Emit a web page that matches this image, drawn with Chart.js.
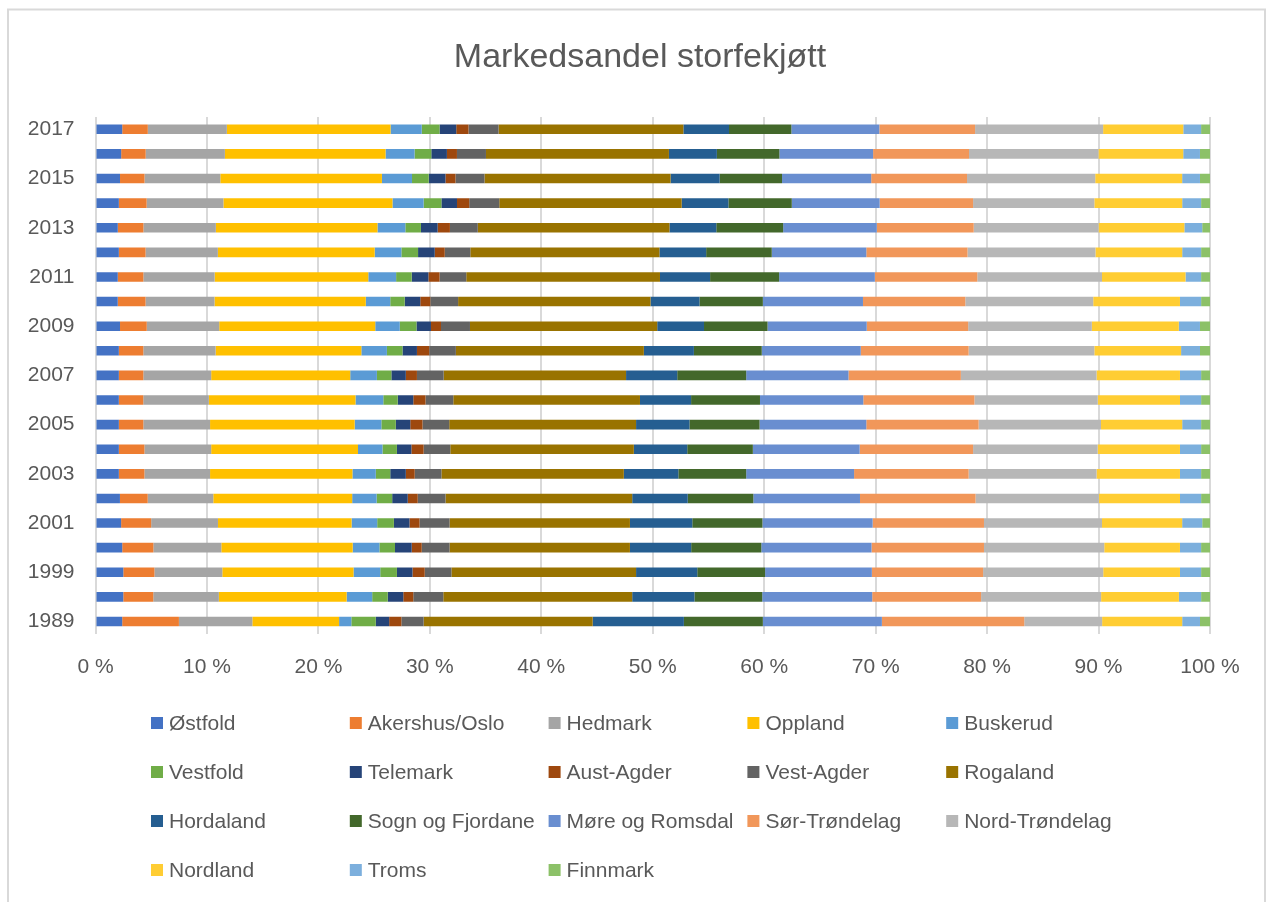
<!DOCTYPE html>
<html>
<head>
<meta charset="utf-8">
<title>Markedsandel storfekjøtt</title>
<script src="https://cdn.jsdelivr.net/npm/chart.js@4/dist/chart.umd.min.js"></script>
<style>
  html, body { margin: 0; padding: 0; background: #ffffff; }
  #chart { display: block; }
</style>
</head>
<body>
<canvas id="chart" width="1271" height="902"></canvas>
<script>
// years shown on the category axis (bottom to top)
var years = ["1989", "1998", "1999", "2000", "2001", "2002", "2003", "2004", "2005", "2006",
  "2007", "2008", "2009", "2010", "2011", "2012", "2013", "2014", "2015", "2016", "2017"];

var xTicks = [0, 10, 20, 30, 40, 50, 60, 70, 80, 90, 100];

// market share per county, in percent, same order as years
var ostfold = [2.4, 2.5, 2.5, 2.4, 2.3, 2.2, 2.1, 2.1, 2.1, 2.1, 2.1, 2.1, 2.2, 2.0, 2.0, 2.1, 2.0, 2.1, 2.2, 2.3, 2.4];
var akershusOslo = [5.1, 2.7, 2.8, 2.8, 2.7, 2.5, 2.3, 2.3, 2.2, 2.2, 2.2, 2.2, 2.4, 2.5, 2.3, 2.4, 2.3, 2.5, 2.2, 2.2, 2.3];
var hedmark = [6.6, 5.9, 6.1, 6.1, 6.0, 5.9, 5.9, 6.0, 6.0, 5.9, 6.1, 6.5, 6.5, 6.2, 6.4, 6.5, 6.5, 6.9, 6.8, 7.1, 7.1];
var oppland = [7.8, 11.5, 11.8, 11.8, 12.0, 12.5, 12.8, 13.2, 13.0, 13.2, 12.5, 13.1, 14.0, 13.6, 13.8, 14.1, 14.5, 15.2, 14.5, 14.4, 14.7];
var buskerud = [1.1, 2.3, 2.4, 2.4, 2.3, 2.2, 2.1, 2.2, 2.4, 2.5, 2.4, 2.3, 2.2, 2.2, 2.5, 2.4, 2.5, 2.8, 2.7, 2.6, 2.8];
var vestfold = [2.2, 1.4, 1.5, 1.4, 1.5, 1.4, 1.3, 1.3, 1.3, 1.3, 1.3, 1.4, 1.5, 1.3, 1.4, 1.5, 1.4, 1.6, 1.5, 1.5, 1.6];
var telemark = [1.2, 1.4, 1.4, 1.5, 1.4, 1.4, 1.4, 1.3, 1.3, 1.4, 1.3, 1.3, 1.3, 1.4, 1.5, 1.5, 1.5, 1.4, 1.5, 1.4, 1.5];
var austAgder = [1.1, 0.9, 1.1, 0.9, 0.9, 0.9, 0.8, 1.1, 1.1, 1.1, 1.0, 1.1, 0.9, 0.9, 1.0, 0.9, 1.1, 1.1, 0.9, 0.9, 1.1];
var vestAgder = [2.0, 2.7, 2.4, 2.5, 2.7, 2.5, 2.4, 2.4, 2.4, 2.5, 2.4, 2.4, 2.6, 2.5, 2.4, 2.3, 2.5, 2.7, 2.6, 2.6, 2.7];
var rogaland = [15.2, 17.0, 16.6, 16.2, 16.2, 16.8, 16.4, 16.5, 16.8, 16.8, 16.4, 16.9, 16.8, 17.3, 17.4, 17.0, 17.2, 16.4, 16.7, 16.4, 16.6];
var hordaland = [8.2, 5.6, 5.5, 5.5, 5.6, 5.0, 4.9, 4.8, 4.8, 4.6, 4.6, 4.5, 4.2, 4.4, 4.5, 4.2, 4.2, 4.2, 4.4, 4.3, 4.1];
var sognFjordane = [7.1, 6.1, 6.1, 6.3, 6.3, 5.9, 6.1, 5.9, 6.3, 6.2, 6.2, 6.1, 5.7, 5.7, 6.2, 5.9, 6.0, 5.7, 5.6, 5.6, 5.6];
var moreRomsdal = [10.7, 9.9, 9.6, 9.9, 9.9, 9.6, 9.7, 9.6, 9.6, 9.3, 9.2, 8.9, 8.9, 9.0, 8.6, 8.5, 8.4, 7.9, 8.0, 8.4, 7.9];
var sorTrondelag = [12.8, 9.8, 10.0, 10.1, 10.0, 10.4, 10.3, 10.2, 10.1, 10.0, 10.1, 9.7, 9.1, 9.2, 9.2, 9.1, 8.7, 8.4, 8.6, 8.6, 8.6];
var nordTrondelag = [7.0, 10.8, 10.8, 10.8, 10.6, 11.1, 11.5, 11.2, 11.0, 11.1, 12.2, 11.3, 11.1, 11.5, 11.2, 11.5, 11.2, 10.9, 11.5, 11.6, 11.5];
var nordland = [7.2, 7.0, 6.9, 6.8, 7.2, 7.3, 7.5, 7.4, 7.3, 7.4, 7.5, 7.8, 7.8, 7.8, 7.5, 7.8, 7.7, 7.9, 7.8, 7.6, 7.2];
var troms = [1.6, 2.0, 1.9, 1.9, 1.8, 1.9, 1.9, 1.9, 1.7, 1.9, 1.9, 1.7, 1.9, 1.9, 1.4, 1.7, 1.6, 1.7, 1.6, 1.5, 1.6];
var finnmark = [0.9, 0.8, 0.8, 0.8, 0.7, 0.8, 0.8, 0.8, 0.8, 0.8, 0.8, 0.9, 0.9, 0.8, 0.8, 0.8, 0.7, 0.8, 0.9, 0.9, 0.8];

var series = [
  ["Østfold", ostfold, "#4472C4"],
  ["Akershus/Oslo", akershusOslo, "#ED7D31"],
  ["Hedmark", hedmark, "#A5A5A5"],
  ["Oppland", oppland, "#FFC000"],
  ["Buskerud", buskerud, "#5B9BD5"],
  ["Vestfold", vestfold, "#70AD47"],
  ["Telemark", telemark, "#264478"],
  ["Aust-Agder", austAgder, "#9E480E"],
  ["Vest-Agder", vestAgder, "#636363"],
  ["Rogaland", rogaland, "#997300"],
  ["Hordaland", hordaland, "#255E91"],
  ["Sogn og Fjordane", sognFjordane, "#43682B"],
  ["Møre og Romsdal", moreRomsdal, "#698ED0"],
  ["Sør-Trøndelag", sorTrondelag, "#F1975A"],
  ["Nord-Trøndelag", nordTrondelag, "#B7B7B7"],
  ["Nordland", nordland, "#FFCD33"],
  ["Troms", troms, "#7CAFDD"],
  ["Finnmark", finnmark, "#8CC168"]
];

var chartTitle = "Markedsandel storfekjøtt";

// 100 % stacked: scale every year to its own total
var totals = years.map(function (y, i) {
  var sum = 0;
  series.forEach(function (s) { sum += s[1][i]; });
  return sum;
});

var datasets = series.map(function (s) {
  return {
    label: s[0],
    data: s[1].map(function (v, i) { return v / totals[i] * 100; }),
    backgroundColor: s[2],
    borderWidth: 0,
    barPercentage: 0.39,
    categoryPercentage: 1
  };
});

var textColor = "#595959";
var fontFamily = "'Liberation Sans', Arial, sans-serif";

// frame, centred title and an Excel style legend (fixed 5 column grid)
var excelDecor = {
  id: "excelDecor",
  beforeDraw: function (chart) {
    var ctx = chart.ctx;
    ctx.save();
    ctx.strokeStyle = "#d9d9d9";
    ctx.lineWidth = 2;
    ctx.strokeRect(8, 9.5, 1257, 1000);
    ctx.fillStyle = textColor;
    ctx.font = "34px " + fontFamily;
    ctx.textAlign = "center";
    ctx.textBaseline = "middle";
    ctx.fillText(chartTitle, 640, 58);
    ctx.restore();
  },
  afterDraw: function (chart) {
    var ctx = chart.ctx;
    ctx.save();
    ctx.font = "21px " + fontFamily;
    ctx.textBaseline = "middle";
    ctx.textAlign = "left";
    chart.data.datasets.forEach(function (ds, i) {
      var x = 151 + (i % 5) * 198.8;
      var y = 723 + Math.floor(i / 5) * 49;
      ctx.fillStyle = ds.backgroundColor;
      ctx.fillRect(x, y - 6, 12, 12);
      ctx.fillStyle = textColor;
      ctx.fillText(ds.label, x + 18, y + 1);
    });
    ctx.restore();
  }
};

Chart.defaults.font.family = fontFamily;
Chart.defaults.color = textColor;

new Chart(document.getElementById("chart"), {
  type: "bar",
  data: { labels: years, datasets: datasets },
  plugins: [excelDecor],
  options: {
    indexAxis: "y",
    responsive: false,
    animation: false,
    devicePixelRatio: 1,
    layout: { padding: { left: 0, right: 61, top: 117, bottom: 201 } },
    plugins: {
      legend: { display: false },
      tooltip: { enabled: false },
      title: { display: false }
    },
    scales: {
      x: {
        stacked: true,
        min: 0,
        max: 100,
        afterBuildTicks: function (scale) {
          scale.ticks = xTicks.map(function (v) { return { value: v }; });
        },
        grid: { color: "#d9d9d9", lineWidth: 2, drawTicks: false },
        border: { display: false },
        ticks: {
          padding: 21,
          color: textColor,
          font: { size: 21 },
          callback: function (v) { return v + " %"; }
        }
      },
      y: {
        stacked: true,
        reverse: true,
        afterFit: function (scale) { scale.width = 95.5; },
        grid: { display: false, drawTicks: false },
        border: { display: false },
        ticks: {
          autoSkip: false,
          padding: 21,
          color: textColor,
          font: { size: 21 },
          callback: function (v, i) {
            return i % 2 === 0 ? this.getLabelForValue(v) : "";
          }
        }
      }
    }
  }
});
</script>
</body>
</html>
